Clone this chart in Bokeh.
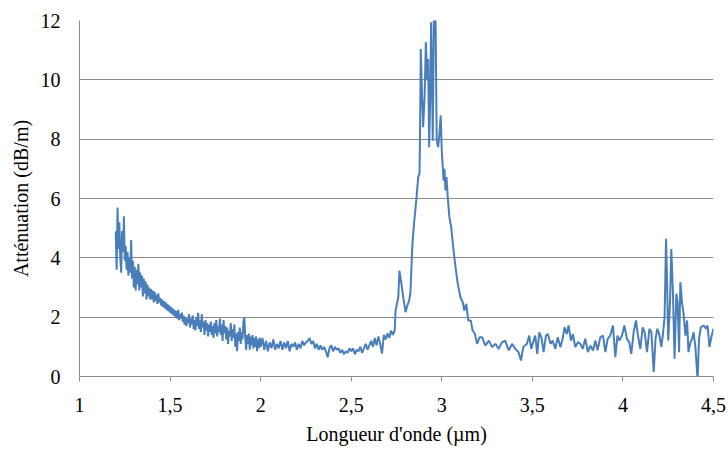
import numpy as np
from bokeh.plotting import figure
from bokeh.models import Range1d, FixedTicker, CustomJSTickFormatter
from bokeh.embed import file_html
from bokeh.resources import INLINE

# Dense part of the spectrum, 1.200 -> 2.000 µm, step 0.005 µm
dense1_start, dense1_step = 1.200, 0.005
dense1_y = [
    4.9, 3.6, 5.7, 4.3, 5.2, 4.0, 3.5, 4.9, 4.2, 5.4,
    3.9, 4.4, 3.6, 4.2, 3.4, 4.0, 3.5, 4.6, 3.3, 3.9,
    3.0, 3.7, 2.9, 3.6, 3.1, 3.8, 2.9, 3.5, 3.0, 3.4,
    2.7, 3.3, 2.8, 3.2, 2.6, 3.1, 2.7, 3.0, 2.6, 2.95,
    2.6, 2.9, 2.5, 2.85, 2.55, 2.75, 2.45, 2.8, 2.5, 2.65,
    2.4, 2.6, 2.35, 2.55, 2.3, 2.5, 2.25, 2.45, 2.2, 2.4,
    2.15, 2.35, 2.1, 2.3, 2.05, 2.25, 2.0, 2.2, 1.95, 2.25,
    1.9, 2.1, 1.95, 2.15, 1.85, 2.05, 1.75, 2.0, 1.7, 1.95,
    1.8, 2.1, 1.65, 1.95, 1.75, 2.05, 1.6, 1.9, 1.55, 2.0,
    1.7, 2.15, 1.6, 1.9, 1.5, 2.1, 1.65, 1.85, 1.4, 1.9,
    1.55, 1.8, 1.35, 1.75, 1.5, 1.85, 1.4, 1.7, 1.3, 1.8,
    1.45, 1.9, 1.35, 1.7, 1.5, 1.95, 1.4, 1.75, 1.2, 1.9,
    1.45, 1.7, 1.25, 1.65, 1.1, 1.55, 1.35, 1.8, 1.2, 1.6,
    1.3, 1.75, 1.0, 1.45, 0.85, 1.5, 1.2, 1.65, 1.1, 1.5,
    1.25, 1.85, 2.0, 1.3, 0.9, 1.4, 1.1, 1.45, 0.9, 1.35,
    1.05, 1.4, 0.95, 1.3, 1.0, 1.35, 0.85, 1.25, 0.95, 1.3,
    1.0,
]

# 2.01 -> 2.74 µm, step 0.01 µm
dense2_start, dense2_step = 2.01, 0.01
dense2_y = [
    1.3, 0.9, 1.2, 0.85, 1.15, 0.95, 1.25, 0.9, 1.1, 0.95,
    1.2, 0.9, 1.15, 0.95, 1.2, 0.85, 1.1, 1.0, 1.15, 0.9,
    1.1, 0.95, 1.2, 1.05, 1.15, 1.2, 1.3, 1.1, 1.2, 0.95,
    1.1, 0.9, 1.05, 0.9, 1.0, 0.85, 0.65, 0.95, 1.05, 0.85,
    1.0, 0.9, 0.95, 0.8, 0.9, 0.75, 0.85, 0.8, 0.95, 0.85,
    0.95, 0.75, 0.9, 0.85, 1.0, 0.8, 0.95, 1.1, 0.9, 1.05,
    1.2, 1.0, 1.3, 1.05, 1.35, 1.1, 0.77, 1.4, 1.25, 1.45,
    1.3, 1.55, 1.4, 1.55,
]

# Absorption band and sparse tail, 2.745 -> 4.5 µm
tail_x = [
    2.745, 2.76, 2.766, 2.777, 2.79, 2.80, 2.81, 2.82, 2.827, 2.837,
    2.845, 2.859, 2.87, 2.877, 2.88, 2.884, 2.892, 2.897, 2.905, 2.912,
    2.92, 2.925, 2.93, 2.936, 2.941, 2.947, 2.95, 2.957, 2.965, 2.972,
    2.98, 2.987, 2.994, 3.0, 3.01, 3.015, 3.02, 3.026, 3.033, 3.042,
    3.052, 3.063, 3.076, 3.088, 3.103, 3.116, 3.124, 3.135, 3.146, 3.16,
    3.17, 3.182, 3.195, 3.208, 3.223, 3.24, 3.26, 3.278, 3.296, 3.314,
    3.333, 3.35, 3.37, 3.388, 3.406, 3.424, 3.437, 3.45, 3.47, 3.483,
    3.494, 3.507, 3.516, 3.527, 3.538, 3.55, 3.562, 3.575, 3.586, 3.6,
    3.612, 3.627, 3.64, 3.655, 3.667, 3.678, 3.69, 3.70, 3.713, 3.724,
    3.737, 3.752, 3.765, 3.778, 3.792, 3.807, 3.82, 3.835, 3.848, 3.86,
    3.875, 3.89, 3.903, 3.916, 3.93, 3.945, 3.958, 3.97, 3.98, 3.995,
    4.008, 4.022, 4.035, 4.046, 4.059, 4.072, 4.083, 4.096, 4.109, 4.12,
    4.133, 4.146, 4.157, 4.17, 4.18, 4.19, 4.20, 4.212, 4.22, 4.23,
    4.238, 4.243, 4.25, 4.26, 4.267, 4.276, 4.285, 4.295, 4.302, 4.31,
    4.317, 4.326, 4.335, 4.345, 4.354, 4.362, 4.373, 4.382, 4.39, 4.40,
    4.412, 4.42, 4.43, 4.445, 4.46, 4.467, 4.478, 4.49, 4.5,
]
tail_y = [
    2.22, 2.67, 3.57, 3.13, 2.56, 2.17, 2.4, 2.56, 2.84, 4.36,
    5.03, 5.93, 6.72, 6.84, 8.18, 11.04, 9.3, 8.4, 9.4, 11.27,
    9.98, 10.7, 7.73, 9.33, 11.94, 9.53, 7.95, 12.5, 12.5, 7.95,
    7.73, 8.18, 8.8, 7.6, 6.6, 7.0, 6.27, 6.72, 6.04, 5.37,
    5.03, 4.36, 3.68, 3.13, 2.67, 2.5, 2.22, 2.45, 1.89, 1.89,
    1.55, 1.45, 1.1, 1.32, 1.32, 1.04, 1.21, 0.99, 1.1, 0.93,
    1.16, 1.21, 0.88, 1.1, 0.93, 0.82, 0.54, 0.99, 1.1, 1.38,
    0.93, 1.21, 1.38, 0.76, 1.49, 1.32, 0.82, 1.38, 1.43, 1.1,
    1.21, 0.93, 1.32, 0.99, 1.27, 1.66, 1.43, 1.72, 1.21, 1.43,
    0.99, 1.16, 1.1, 0.93, 1.27, 0.82, 1.04, 0.88, 1.21, 0.88,
    1.32, 1.38, 0.82, 1.27, 1.38, 1.72, 0.65, 1.38, 1.21, 1.38,
    1.72, 1.27, 1.16, 0.76, 1.49, 1.89, 1.38, 0.93, 1.66, 1.49,
    0.82, 1.61, 1.49, 0.15, 1.27, 1.61, 1.44, 1.0, 1.38, 2.0,
    4.64, 3.4, 1.21, 2.5, 4.3, 2.84, 0.6, 2.79, 2.5, 0.82,
    3.18, 2.5, 2.11, 1.38, 1.89, 0.82, 1.16, 1.27, 1.49, 1.0,
    -0.1, 1.27, 1.66, 1.72, 1.61, 1.72, 1.0, 1.38, 1.61,
]

x_ticks = [1, 1.5, 2, 2.5, 3, 3.5, 4, 4.5]
y_ticks = [0, 2, 4, 6, 8, 10, 12]
x_title = "Longueur d'onde (µm)"
y_title = "Atténuation (dB/m)"

x1 = np.round(dense1_start + dense1_step * np.arange(len(dense1_y)), 4)
x2 = np.round(dense2_start + dense2_step * np.arange(len(dense2_y)), 4)
xs = np.concatenate([x1, x2, np.array(tail_x)])
ys = np.concatenate([np.array(dense1_y), np.array(dense2_y), np.array(tail_y)])

FONT = "Liberation Serif"
GRID = "#8c8c8c"

p = figure(width=728, height=449, output_backend="svg", toolbar_location=None,
           x_range=Range1d(1, 4.5), y_range=Range1d(0, 12),
           min_border_left=79, min_border_right=15, min_border_top=20,
           min_border_bottom=73)
p.outline_line_color = None
p.background_fill_color = "white"
p.border_fill_color = "white"

p.line(xs, ys, line_color="#4a7ebb", line_width=2)

p.xgrid.visible = False
p.ygrid.grid_line_color = GRID
p.ygrid.grid_line_width = 1

p.xaxis.ticker = FixedTicker(ticks=x_ticks)
p.yaxis.ticker = FixedTicker(ticks=y_ticks)
fmt = CustomJSTickFormatter(code="return String(tick).replace('.', ',');")
p.xaxis.formatter = fmt
p.yaxis.formatter = fmt

for ax in (p.xaxis[0], p.yaxis[0]):
    ax.axis_line_color = GRID
    ax.major_tick_line_color = GRID
    ax.minor_tick_line_color = None
    ax.major_label_text_font = FONT
    ax.major_label_text_font_size = "20px"
    ax.major_label_text_color = "black"
    ax.axis_label_text_font = FONT
    ax.axis_label_text_font_size = "20px"
    ax.axis_label_text_font_style = "normal"
    ax.axis_label_text_color = "black"

p.xaxis.major_tick_in = 0
p.xaxis.major_tick_out = 5
p.xaxis.major_label_standoff = 16
p.xaxis.axis_label = x_title
p.xaxis.axis_label_standoff = 8

p.yaxis.major_tick_in = 0
p.yaxis.major_tick_out = 0
p.yaxis.major_label_standoff = 19
p.yaxis.axis_label = y_title
p.yaxis.axis_label_standoff = 6

open("out.html", "w").write(file_html(p, INLINE))
